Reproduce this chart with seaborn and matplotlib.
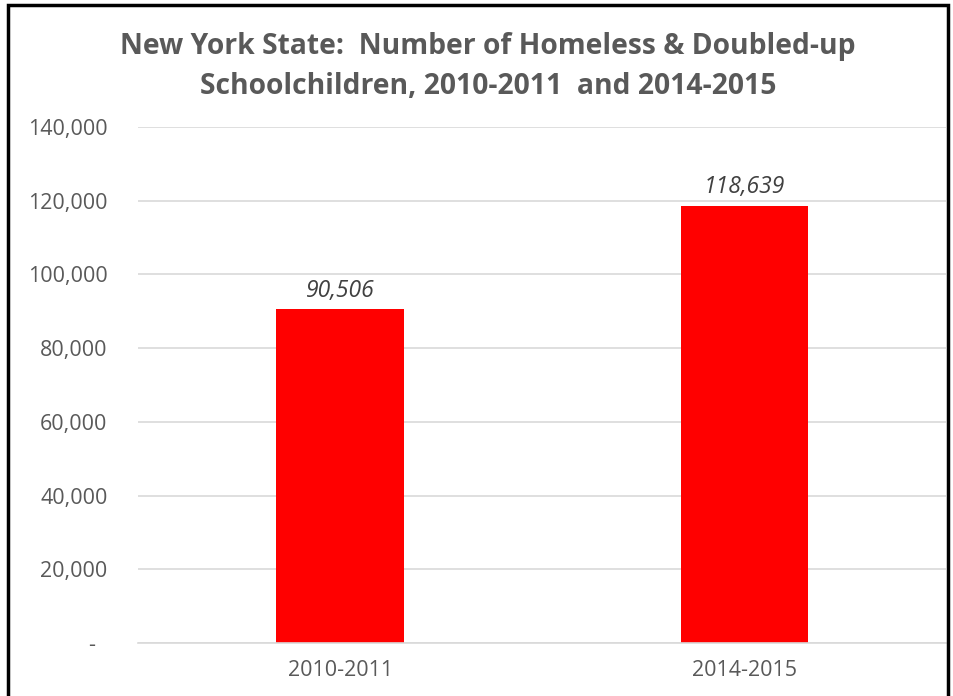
import matplotlib
matplotlib.use("Agg")
import matplotlib.pyplot as plt
import matplotlib.patches as mpatches
import matplotlib.ticker as mticker
import seaborn as sns
import pandas as pd

# Data
years = ["2010-2011", "2014-2015"]
students = [90506, 118639]
y_ticks = [0, 20000, 40000, 60000, 80000, 100000, 120000, 140000]

title = "New York State:  Number of Homeless & Doubled-up\nSchoolchildren, 2010-2011  and 2014-2015"

sns.set_theme(style="white")
plt.rcParams["font.family"] = ["Open Sans", "DejaVu Sans"]

df = pd.DataFrame({"year": years, "students": students})

fig = plt.figure(figsize=(9.54, 6.96), dpi=100)
ax = fig.add_axes([0.1447, 0.0761, 0.8472, 0.7414])

sns.barplot(data=df, x="year", y="students", color="#FF0000", saturation=1,
            width=0.315, ax=ax, edgecolor="none")

ax.set_ylim(0, 140000)
ax.set_xlim(-0.5, 1.5)
ax.set_yticks(y_ticks)
# Accounting-style labels: zero shown as a dash
ax.yaxis.set_major_formatter(mticker.FuncFormatter(
    lambda v, p: "-  " if v == 0 else f"{int(v):,}"))
ax.grid(axis="y", color="#D9D9D9", linewidth=1.2)
ax.set_axisbelow(True)
for s in ["top", "right", "left"]:
    ax.spines[s].set_visible(False)
ax.spines["bottom"].set_color("#D9D9D9")
ax.spines["bottom"].set_linewidth(1.2)
ax.tick_params(axis="both", length=0, labelsize=15.5, colors="#595959")
ax.tick_params(axis="y", pad=22)
ax.tick_params(axis="x", pad=12)
ax.set_xlabel("")
ax.set_ylabel("")

# Value labels above each bar
for container in ax.containers:
    ax.bar_label(container, labels=[f"{v:,}" for v in students],
                 padding=5, fontsize=16.5, style="italic", color="#404040")

fig.text(0.5115, 0.904, title, ha="center", va="center", fontsize=20.3,
         fontweight="bold", color="#595959", linespacing=1.5)

# Frame around the chart
frame = mpatches.Rectangle((8 / 954, -0.05), 940 / 954, 1.05 - 5 / 696,
                           transform=fig.transFigure, fill=False,
                           edgecolor="black", linewidth=2.5, clip_on=False)
fig.patches.append(frame)

fig.savefig("out.png", dpi=100, facecolor="white")
